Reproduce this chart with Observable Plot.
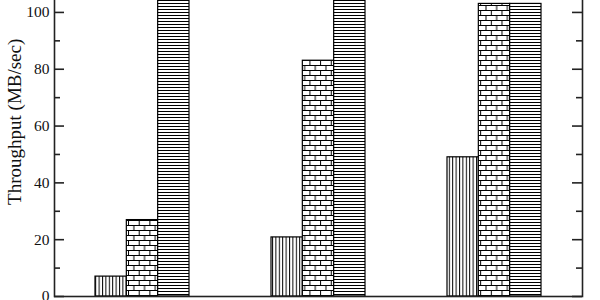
<!DOCTYPE html>
<html><head><meta charset="utf-8">
<script src="https://cdn.jsdelivr.net/npm/d3@7"></script>
<script src="https://cdn.jsdelivr.net/npm/@observablehq/plot@0.6"></script>
<style>body{margin:0;background:#fff}</style>
</head><body><div id="chart"></div>
<script>
// Data (tall bars are clipped at the top of the picture)
const groups = ["1", "2", "3"];
const seriesNames = ["vertical", "brick", "horizontal"];
const seriesVertical = [7, 20.8, 49];
const seriesBrick = [26.9, 83, 103];
const seriesHorizontal = [112, 112, 103];
const majorTicks = [0, 20, 40, 60, 80, 100];
const minorTicks = [10, 30, 50, 70, 90];
const yLabel = "Throughput (MB/sec)";
const yLabelAt = 61.5; // value on the y scale where the label is centred

const allSeries = [seriesVertical, seriesBrick, seriesHorizontal];
const patterns = ["url(#pv)", "url(#pb)", "url(#ph)"];

const W = 600, H = 300, mL = 54, mR = 18, mT = 0, mB = 4;
const frameW = W - mL - mR;
const groupBand = 94;          // width of a group of three bars
const barW = groupBand / 3;
const step = frameW / groups.length;
const pad = 1 - groupBand / step;

const barMarks = allSeries.map((vals, j) =>
  Plot.barY(groups.map((g, i) => ({group: g, value: vals[i]})), {
    x: "group", y: "value",
    fill: patterns[j], stroke: "#000", strokeWidth: 1.2,
    insetLeft: j * barW, insetRight: (2 - j) * barW,
    clip: true
  })
);

const axisCol = "#222";
const plot = Plot.plot({
  width: W, height: H,
  marginLeft: mL, marginRight: mR, marginTop: mT, marginBottom: mB,
  style: {fontFamily: "'Liberation Serif', serif", background: "#fff"},
  x: {domain: groups, paddingInner: pad, paddingOuter: pad / 2, axis: null},
  y: {domain: [0, 104.2], axis: null},
  marks: [
    ...barMarks,
    Plot.frame({stroke: axisCol, strokeWidth: 1.6, insetTop: -6}),
    Plot.tickY(majorTicks, {y: d => d, stroke: axisCol, strokeWidth: 1.6, insetRight: frameW - 10}),
    Plot.tickY(majorTicks, {y: d => d, stroke: axisCol, strokeWidth: 1.6, insetLeft: frameW - 10}),
    Plot.tickY(minorTicks, {y: d => d, stroke: axisCol, strokeWidth: 1.6, insetRight: frameW - 6}),
    Plot.tickY(minorTicks, {y: d => d, stroke: axisCol, strokeWidth: 1.6, insetLeft: frameW - 6}),
    Plot.axisY(majorTicks, {tickSize: 0, tickPadding: 5, fontSize: 15.5, fill: "#111", label: null}),
    Plot.text([yLabel], {y: () => yLabelAt, frameAnchor: "left", textAnchor: "middle", lineAnchor: "middle",
      rotate: -90, dx: -40, fontSize: 19, fill: "#111"})
  ]
});

const svg = d3.select(plot.tagName.toLowerCase() === "svg" ? plot : plot.querySelector("svg"));
const defs = svg.insert("defs", ":first-child");
const pv = defs.append("pattern").attr("id", "pv").attr("patternUnits", "userSpaceOnUse")
  .attr("width", 3.4).attr("height", 10);
pv.append("rect").attr("width", 3.4).attr("height", 10).attr("fill", "#fff");
pv.append("path").attr("d", "M0.5,0V10").attr("stroke", "#000").attr("stroke-width", 1);
const ph = defs.append("pattern").attr("id", "ph").attr("patternUnits", "userSpaceOnUse")
  .attr("width", 10).attr("height", 3);
ph.append("rect").attr("width", 10).attr("height", 3).attr("fill", "#fff");
ph.append("path").attr("d", "M0,0.5H10").attr("stroke", "#000").attr("stroke-width", 1);
const bw = 10.67, bh = 10;
const pb = defs.append("pattern").attr("id", "pb").attr("patternUnits", "userSpaceOnUse")
  .attr("width", bw).attr("height", bh);
pb.append("rect").attr("width", bw).attr("height", bh).attr("fill", "#fff");
pb.append("path").attr("d", `M0,0.5H${bw}M0,${bh/2+0.5}H${bw}M0.5,0.5V${bh/2+0.5}M${bw/2+0.5},${bh/2+0.5}V${bh+0.5}`)
  .attr("stroke", "#000").attr("stroke-width", 1);

document.getElementById("chart").appendChild(plot);
</script>
</body></html>
